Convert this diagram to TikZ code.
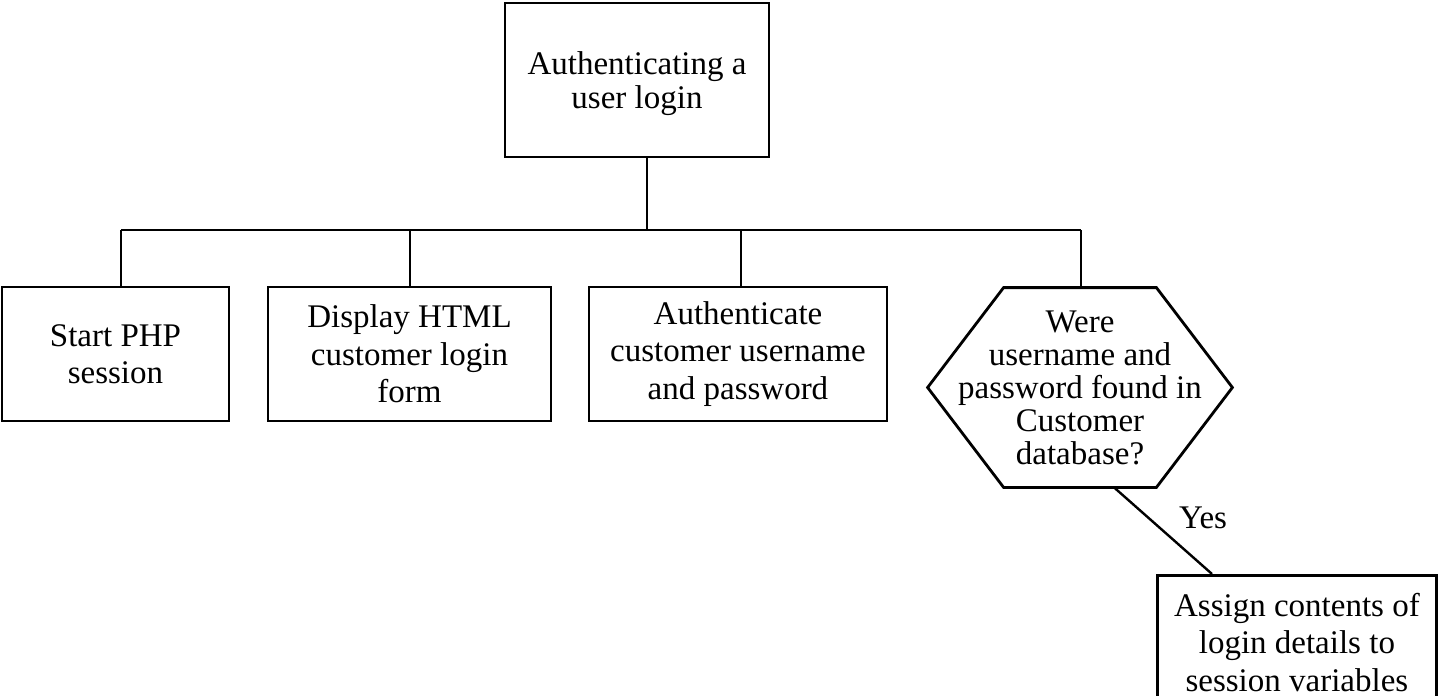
\documentclass[tikz,border=0pt]{standalone}
\usepackage{fontspec}
\setmainfont{Liberation Serif}
\usetikzlibrary{calc}
\begin{document}
\begin{tikzpicture}[x=0.5pt,y=-0.5pt,
  txt/.style={align=center, inner sep=0pt, font=\fontsize{16.5}{17}\selectfont},
  box/.style={txt, draw, line width=1.4pt},
  wide/.style={font=\fontsize{16.5}{18.75}\selectfont},
  outline/.style={line width=1.4pt, line join=miter},
  link/.style={line width=1.2pt}]
\clip (0,0) rectangle (1438,695);

% root box, its caption set a little below centre
\node[box, minimum width=132pt, minimum height=77pt] (top) at (637,80) {};
\node[txt] (toptext) at (637,84) {Authenticating a\\user login};

% first-level boxes
\node[box, wide, minimum width=113.5pt, minimum height=67pt] (start) at (115.5,354)
  {Start PHP\\session};
\node[box, wide, minimum width=141.5pt, minimum height=67pt] (display) at (409.5,354)
  {Display HTML\\customer login\\form};
\node[box, wide, minimum width=149pt, minimum height=67pt] (auth) at (738,354)
  {Authenticate\\customer username\\and password};
\node[txt, minimum width=152pt, minimum height=99.5pt, font=\fontsize{16.5}{16.5}\selectfont] (hex) at (1080,387.5)
  {Were\\username and\\password found in\\Customer\\database?};
\node[box, wide, anchor=north west, minimum width=139.5pt, minimum height=67pt] (assign) at (1156,574)
  {Assign contents of\\login details to\\session variables};

% decision outline
\draw[outline] (hex.west) -- ($(hex.north west)+(76,0)$) -- ($(hex.north east)+(-76,0)$)
  -- (hex.east) -- ($(hex.south east)+(-76,0)$) -- ($(hex.south west)+(76,0)$) -- cycle;

% tree connectors
\coordinate (bt) at (647,230);
\coordinate (b1) at (121,230);
\coordinate (b2) at (410,230);
\coordinate (b3) at (741,230);
\coordinate (b4) at (1081,230);
\draw[link] (top.south -| bt) -- (bt);
\draw[link] (b1) -- (b4);
\draw[link] (start.north -| b1) -- (b1);
\draw[link] (display.north -| b2) -- (b2);
\draw[link] (auth.north -| b3) -- (b3);
\draw[link] (hex.north -| b4) -- (b4);

% yes branch
\coordinate (hy) at (1114,0);
\coordinate (ay) at (1212,0);
\draw[link] (hex.south -| hy) -- (assign.north -| ay);
\node[txt] (yes) at (1203,518) {Yes};
\end{tikzpicture}
\end{document}
